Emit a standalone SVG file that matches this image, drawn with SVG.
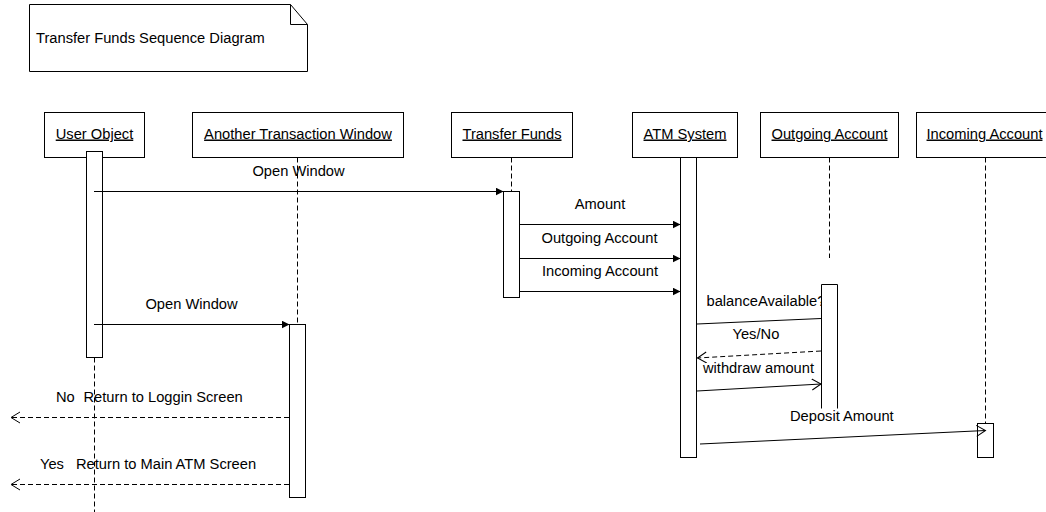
<svg xmlns="http://www.w3.org/2000/svg" width="1046" height="512" viewBox="0 0 1046 512">
  <style>
    text { font-family: "Liberation Sans", Arial, sans-serif; font-size: 14.7px; fill: #000; }
    .obj { text-decoration: underline; text-anchor: middle; }
    .mid { text-anchor: middle; }
    .box { fill: #fff; stroke: #000; stroke-width: 1; }
    .act { fill: #fff; stroke: #000; stroke-width: 1; }
    .life { fill: none; stroke: #000; stroke-width: 1; stroke-dasharray: 5 3; }
    .msg { fill: none; stroke: #000; stroke-width: 1; }
    .call { marker-end: url(#solidHead); }
    .ret { stroke-dasharray: 5 3; marker-end: url(#openHead); }
    .send { marker-end: url(#openHead); }
  </style>
  <defs>
    <marker id="solidHead" markerUnits="userSpaceOnUse" markerWidth="10" markerHeight="10" refX="8" refY="4" orient="auto">
      <path d="M0,0 L8,4 L0,8 Z" fill="#000"/>
    </marker>
    <marker id="openHead" markerUnits="userSpaceOnUse" markerWidth="12" markerHeight="14" refX="9.5" refY="6" orient="auto">
      <path d="M0.5,0.5 L9.5,6 L0.5,11.5" fill="none" stroke="#000" stroke-width="1"/>
    </marker>
    <clipPath id="beforeOutgoing">
      <rect x="690" y="280" width="131" height="40"/>
    </clipPath>
  </defs>

  <rect width="1046" height="512" fill="#fff"/>

  <!-- title note with folded corner -->
  <g id="note">
    <path d="M29.5,4.5 H290.5 L307.5,24.5 V71.5 H29.5 Z" fill="#fff" stroke="#000"/>
    <path d="M290.5,4.5 V24.5 H307.5" fill="none" stroke="#000"/>
    <text x="36" y="42.5">Transfer Funds Sequence Diagram</text>
  </g>

  <!-- User Object -->
  <g id="userObject">
    <rect class="box" x="44.5" y="112.5" width="100" height="45"/>
    <text class="obj" x="94.5" y="138.5">User Object</text>
    <line class="life" x1="94.5" y1="157.5" x2="94.5" y2="512"/>
    <rect class="act" x="86.5" y="151.5" width="16" height="206"/>
  </g>

  <!-- Another Transaction Window -->
  <g id="anotherTransactionWindow">
    <rect class="box" x="192.5" y="112.5" width="211" height="45"/>
    <text class="obj" x="298" y="138.5">Another Transaction Window</text>
    <line class="life" x1="297.5" y1="157.5" x2="297.5" y2="324.5"/>
    <rect class="act" x="289.5" y="324.5" width="16" height="173"/>
  </g>

  <!-- Transfer Funds -->
  <g id="transferFunds">
    <rect class="box" x="451.5" y="112.5" width="121" height="45"/>
    <text class="obj" x="512" y="138.5">Transfer Funds</text>
    <line class="life" x1="511.5" y1="157.5" x2="511.5" y2="191.5"/>
    <rect class="act" x="503.5" y="191.5" width="16" height="106"/>
  </g>

  <!-- ATM System -->
  <g id="atmSystem">
    <rect class="box" x="632.5" y="112.5" width="105" height="45"/>
    <text class="obj" x="685" y="138.5">ATM System</text>
    <rect class="act" x="680.5" y="157.5" width="16" height="300"/>
  </g>

  <!-- Outgoing Account -->
  <g id="outgoingAccount">
    <rect class="box" x="760.5" y="112.5" width="138" height="45"/>
    <text class="obj" x="829.5" y="138.5">Outgoing Account</text>
    <line class="life" x1="829.5" y1="157.5" x2="829.5" y2="258"/>
    <rect x="821.5" y="284.5" width="16" height="124" fill="#fff"/>
    <path d="M821.5,408.5 V284.5 H837.5 V408.5" fill="none" stroke="#000"/>
  </g>

  <!-- Incoming Account -->
  <g id="incomingAccount">
    <rect class="box" x="916.5" y="112.5" width="136" height="45"/>
    <text class="obj" x="984.5" y="138.5">Incoming Account</text>
    <line class="life" x1="985.5" y1="157.5" x2="985.5" y2="423.5"/>
    <rect class="act" x="977.5" y="423.5" width="16" height="34"/>
  </g>

  <!-- messages -->
  <g id="connectors">
    <line class="msg call" x1="94" y1="191.5" x2="503.5" y2="191.5"/>
    <text class="mid" x="298.5" y="176">Open Window</text>

    <line class="msg call" x1="520" y1="224.5" x2="680.5" y2="224.5"/>
    <text class="mid" x="600" y="209">Amount</text>

    <line class="msg call" x1="520" y1="258.5" x2="680.5" y2="258.5"/>
    <text class="mid" x="599.5" y="243">Outgoing Account</text>

    <line class="msg call" x1="520" y1="291.5" x2="680.5" y2="291.5"/>
    <text class="mid" x="600" y="275.5">Incoming Account</text>

    <line class="msg call" x1="94" y1="324.5" x2="289.5" y2="324.5"/>
    <text class="mid" x="191.5" y="308.5">Open Window</text>

    <line class="msg" x1="697" y1="324" x2="821" y2="318.5"/>
    <text x="706.5" y="306" clip-path="url(#beforeOutgoing)">balanceAvailable?</text>

    <line class="msg ret" x1="821" y1="351" x2="697.5" y2="358"/>
    <text x="732.5" y="338.5">Yes/No</text>

    <line class="msg send" x1="697" y1="391" x2="821" y2="384"/>
    <text x="703" y="372.5">withdraw amount</text>

    <line class="msg send" x1="700" y1="444" x2="985.5" y2="430.5"/>
    <text x="790" y="421">Deposit Amount</text>

    <line class="msg ret" x1="289" y1="417.5" x2="11" y2="417.5"/>
    <text x="56" y="402">No</text>
    <text x="83.5" y="402">Return to Loggin Screen</text>

    <line class="msg ret" x1="289" y1="484.5" x2="11" y2="484.5"/>
    <text x="40" y="468.5">Yes</text>
    <text x="76" y="468.5">Return to Main ATM Screen</text>
  </g>
</svg>
